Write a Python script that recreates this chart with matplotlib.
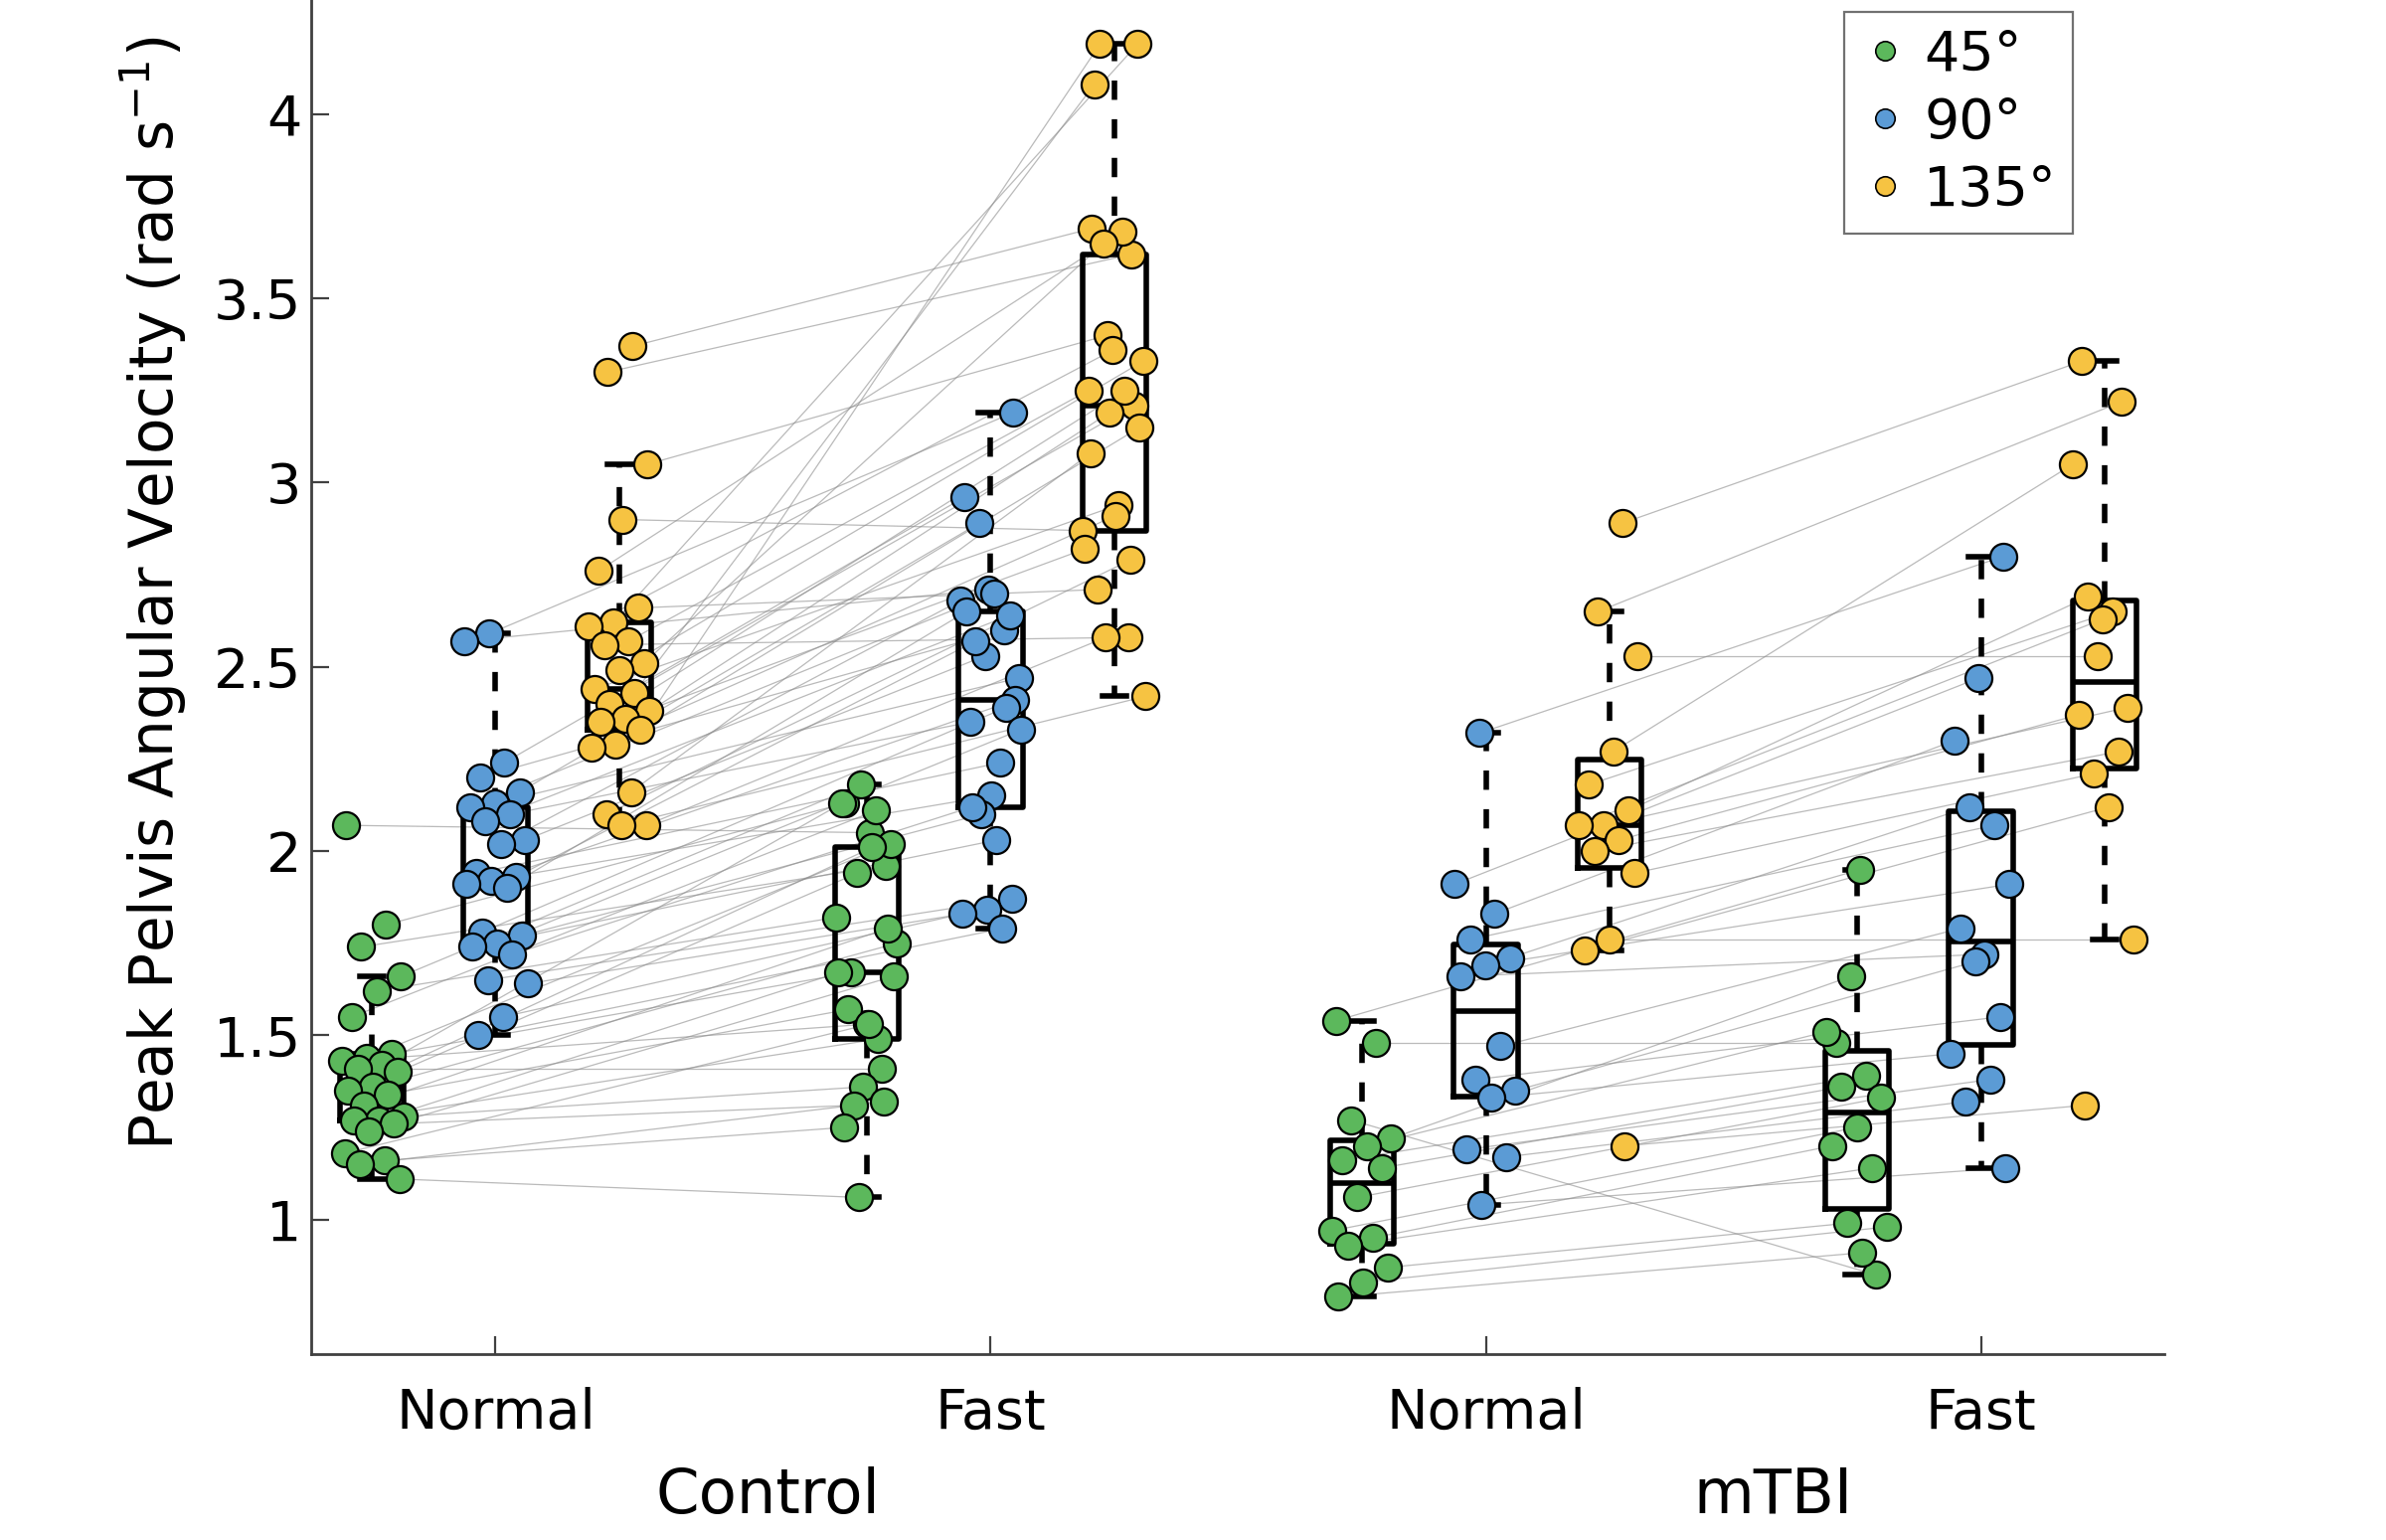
import numpy as np
import matplotlib.pyplot as plt
from matplotlib.lines import Line2D

plt.rcParams['font.family'] = ['DejaVu Sans']

angles = ["45°", "90°", "135°"]
colors = ["#5cb85c", "#5b9bd5", "#f6c342"]
cond_labels = ["Normal", "Fast", "Normal", "Fast"]
groups = ["Control", "mTBI"]

# values listed per subject, so normal[i] and fast[i] belong together
ctrl_45_normal = [2.07, 1.80, 1.74, 1.66, 1.62, 1.55, 1.45, 1.44, 1.43, 1.42, 1.41, 1.40, 1.36,
                  1.35, 1.34, 1.31, 1.28, 1.27, 1.27, 1.26, 1.24, 1.18, 1.16, 1.15, 1.11]
ctrl_45_fast = [2.05, 2.13, 1.96, 2.18, 1.82, 2.11, 1.67, 2.02, 1.53, 2.13, 1.41, 1.94, 1.75,
                2.01, 1.57, 1.79, 1.36, 1.67, 1.49, 1.31, 1.66, 1.53, 1.25, 1.32, 1.06]

ctrl_90_normal = [2.59, 2.57, 2.24, 2.20, 2.16, 2.13, 2.12, 2.10, 2.08, 2.03, 2.02, 1.94, 1.93,
                  1.92, 1.91, 1.90, 1.78, 1.77, 1.75, 1.74, 1.72, 1.65, 1.64, 1.55, 1.50]
ctrl_90_fast = [3.19, 2.71, 2.96, 2.60, 2.89, 2.47, 2.70, 2.35, 2.64, 2.53, 2.68, 2.24, 2.57,
                2.41, 2.15, 2.65, 2.39, 2.10, 2.33, 2.03, 2.12, 1.87, 1.84, 1.83, 1.79]

ctrl_135_normal = [3.37, 3.30, 3.05, 2.90, 2.76, 2.66, 2.62, 2.61, 2.57, 2.56, 2.51, 2.49, 2.44,
                   2.43, 2.40, 2.38, 2.36, 2.35, 2.33, 2.29, 2.28, 2.16, 2.10, 2.07, 2.07]
ctrl_135_fast = [3.69, 3.62, 3.40, 2.87, 3.68, 2.71, 4.19, 3.36, 3.25, 2.58, 3.65, 3.33, 2.94,
                 4.08, 3.21, 3.19, 2.82, 3.25, 4.19, 3.15, 2.91, 3.08, 2.79, 2.58, 2.42]

mtbi_45_normal = [1.54, 1.48, 1.27, 1.22, 1.20, 1.16, 1.14, 1.06, 0.97, 0.95, 0.93, 0.87, 0.83, 0.79]
mtbi_45_fast = [1.95, 1.48, 0.85, 1.66, 1.51, 1.39, 1.36, 1.33, 1.25, 1.20, 1.14, 0.99, 0.98, 0.91]

mtbi_90_normal = [2.32, 1.91, 1.83, 1.76, 1.71, 1.69, 1.66, 1.47, 1.38, 1.35, 1.33, 1.19, 1.17, 1.04]
mtbi_90_fast = [2.80, 2.47, 2.30, 2.07, 2.12, 1.91, 1.72, 1.79, 1.55, 1.70, 1.45, 1.38, 1.32, 1.14]

mtbi_135_normal = [2.89, 2.65, 2.53, 2.27, 2.18, 2.11, 2.07, 2.07, 2.03, 2.00, 1.94, 1.76, 1.73, 1.20]
mtbi_135_fast = [3.33, 3.22, 2.53, 3.05, 2.65, 2.69, 2.39, 2.63, 2.37, 2.27, 2.21, 1.76, 2.12, 1.31]

ctrl_sets = [(ctrl_45_normal, ctrl_45_fast), (ctrl_90_normal, ctrl_90_fast), (ctrl_135_normal, ctrl_135_fast)]
mtbi_sets = [(mtbi_45_normal, mtbi_45_fast), (mtbi_90_normal, mtbi_90_fast), (mtbi_135_normal, mtbi_135_fast)]

offsets = [-0.25, 0.0, 0.25]
box_w = 0.13


def spread(n, shift):
    # fixed, evenly scattered horizontal offsets so points don't sit on one line
    k = np.arange(n)
    return ((k * 0.618034 + shift) % 1 - 0.5) * 0.13


fig = plt.figure(figsize=(12, 7.745), dpi=200)
ax = fig.add_axes([0.1305, 0.121, 0.7765, 0.879])

box_data, box_pos = [], []
for gi, sets in enumerate([ctrl_sets, mtbi_sets]):
    x_normal = 1 + 2 * gi
    x_fast = 2 + 2 * gi
    for ai, (normal, fast) in enumerate(sets):
        xn = x_normal + offsets[ai] + spread(len(normal), 0.1 + 0.3 * ai)
        xf = x_fast + offsets[ai] + spread(len(fast), 0.55 + 0.3 * ai)
        for a, b, c, d in zip(xn, xf, normal, fast):
            ax.plot([a, b], [c, d], color='0.55', lw=0.45, alpha=0.6, zorder=1)
        ax.scatter(xn, normal, s=95, color=colors[ai], edgecolors='k', linewidths=0.8, zorder=3)
        ax.scatter(xf, fast, s=95, color=colors[ai], edgecolors='k', linewidths=0.8, zorder=3)
        box_data += [normal, fast]
        box_pos += [x_normal + offsets[ai], x_fast + offsets[ai]]

line_kw = dict(color='k', lw=2.0)
ax.boxplot(box_data, positions=box_pos, widths=box_w, whis=1.5, showfliers=False,
           boxprops=line_kw, medianprops=line_kw, capprops=line_kw,
           whiskerprops=dict(color='k', lw=2.0, linestyle=(0, (3.5, 3.5))),
           capwidths=0.05, manage_ticks=False, zorder=2)

ax.set_xlim(0.628, 4.37)
ax.set_ylim(0.636, 4.31)
ax.set_xticks([1, 2, 3, 4])
ax.set_xticklabels(cond_labels)
ax.set_yticks([1, 1.5, 2, 2.5, 3, 3.5, 4])
ax.set_yticklabels(['1', '1.5', '2', '2.5', '3', '3.5', '4'])
ax.tick_params(direction='in', length=6.5, width=0.8, labelsize=20, color='0.25')
ax.tick_params(axis='x', pad=12)
for side in ['top', 'right']:
    ax.spines[side].set_visible(False)
for side in ['left', 'bottom']:
    ax.spines[side].set_color('0.25')
    ax.spines[side].set_linewidth(1.0)

ax.set_ylabel('Peak Pelvis Angular Velocity (rad s$^{-1}$)', fontsize=21.5)
ax.yaxis.set_label_coords(-0.066, 0.562)

ax.text(1.55, -0.105, groups[0], transform=ax.get_xaxis_transform(), ha='center', va='center', fontsize=22.5)
ax.text(3.58, -0.105, groups[1], transform=ax.get_xaxis_transform(), ha='center', va='center', fontsize=22.5)

handles = [Line2D([], [], ls='', marker='o', markersize=7, markerfacecolor=c, markeredgecolor='k',
                  markeredgewidth=0.6) for c in colors]
leg = ax.legend(handles, angles, loc='upper right', bbox_to_anchor=(0.951, 0.991), fontsize=20,
                frameon=True, fancybox=False, edgecolor='0.3', handletextpad=0.25,
                labelspacing=0.25, borderpad=0.3, handlelength=0.9, borderaxespad=0)
leg.get_frame().set_linewidth(0.8)

fig.savefig('out.png', dpi=200)
